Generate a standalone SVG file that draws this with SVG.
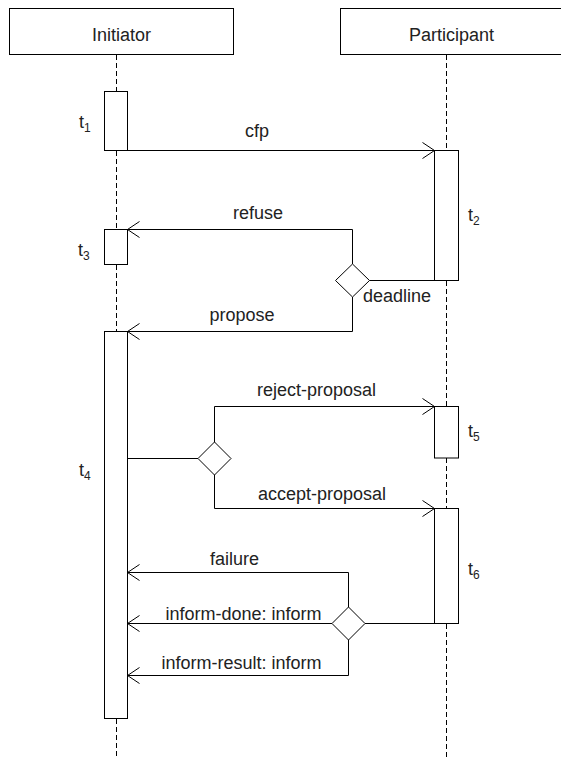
<svg xmlns="http://www.w3.org/2000/svg" width="561" height="759" viewBox="0 0 561 759">
<style>
.box{fill:#fff;stroke:#000;stroke-width:1}
.life{stroke:#000;stroke-width:1;stroke-dasharray:5,3;fill:none}
.msg{stroke:#000;stroke-width:1;fill:none}
.arr{stroke:#000;stroke-width:1;fill:none;marker-end:url(#open)}
text{font-family:"Liberation Sans",Arial,sans-serif;font-size:18px;fill:#222}
.sub{font-size:12px}
</style>
<defs>
<marker id="open" markerUnits="userSpaceOnUse" markerWidth="16" markerHeight="20" refX="13" refY="10" orient="auto" overflow="visible">
<path d="M1,2 L13,10 L1,18" fill="none" stroke="#000" stroke-width="1"/>
</marker>
</defs>
<rect width="561" height="759" fill="#fff"/>
<g id="lifelines">
<path class="life" d="M116.5,55 V91 M116.5,151 V229 M116.5,265 V331 M116.5,719 V759"/>
<path class="life" d="M446.5,55 V150 M446.5,281 V406 M446.5,458 V508 M446.5,624 V759"/>
</g>
<g id="initiator"><rect class="box" x="9.5" y="8.5" width="224" height="46"/><text x="121.5" y="41" text-anchor="middle">Initiator</text></g>
<g id="participant"><rect class="box" x="340.5" y="8.5" width="230" height="46"/><text x="451.5" y="41" text-anchor="middle">Participant</text></g>
<g id="t1"><rect class="box" x="104.5" y="91.5" width="23" height="59"/><text x="79" y="128">t<tspan class="sub" dy="4">1</tspan></text></g>
<g id="t2"><rect class="box" x="434.5" y="150.5" width="24" height="130"/><text x="468" y="221">t<tspan class="sub" dy="4">2</tspan></text></g>
<g id="t3"><rect class="box" x="104.5" y="229.5" width="23" height="35"/><text x="78" y="256">t<tspan class="sub" dy="4">3</tspan></text></g>
<g id="t4"><rect class="box" x="104.5" y="331.5" width="23" height="387"/><text x="79" y="476">t<tspan class="sub" dy="4">4</tspan></text></g>
<g id="t5"><rect class="box" x="434.5" y="406.5" width="24" height="51.5"/><text x="468" y="437">t<tspan class="sub" dy="4">5</tspan></text></g>
<g id="t6"><rect class="box" x="434.5" y="508.5" width="24" height="115"/><text x="468" y="575">t<tspan class="sub" dy="4">6</tspan></text></g>
<g id="decision1"><polygon class="box" points="352.5,264 369.5,280.5 352.5,297 335.5,280.5"/><text x="363" y="302">deadline</text></g>
<g id="decision2"><polygon class="box" points="214.5,442 231,458.5 214.5,475 198,458.5"/></g>
<g id="decision3"><polygon class="box" points="348.5,607 365,623.5 348.5,640 332,623.5"/></g>
<g id="connectors">
<path class="arr" d="M127.5,150.5 H434.5"/>
<path class="arr" d="M352.5,264 V229.5 H127.5"/>
<path class="msg" d="M369.5,280.5 H434.5"/>
<path class="arr" d="M352.5,297 V331.5 H127.5"/>
<path class="msg" d="M127.5,458.5 H198"/>
<path class="arr" d="M214.5,442 V406.5 H434.5"/>
<path class="arr" d="M214.5,475 V508.5 H434.5"/>
<path class="msg" d="M365,623.5 H434.5"/>
<path class="arr" d="M348.5,607 V572.5 H127.5"/>
<path class="arr" d="M332,623.5 H127.5"/>
<path class="arr" d="M348.5,640 V675.5 H127.5"/>
</g>
<g id="labels">
<text x="245" y="137">cfp</text>
<text x="233" y="219">refuse</text>
<text x="209.5" y="321">propose</text>
<text x="257" y="396">reject-proposal</text>
<text x="258" y="500">accept-proposal</text>
<text x="210" y="565">failure</text>
<text x="165.5" y="620">inform-done: inform</text>
<text x="161.5" y="669">inform-result: inform</text>
</g>
</svg>
